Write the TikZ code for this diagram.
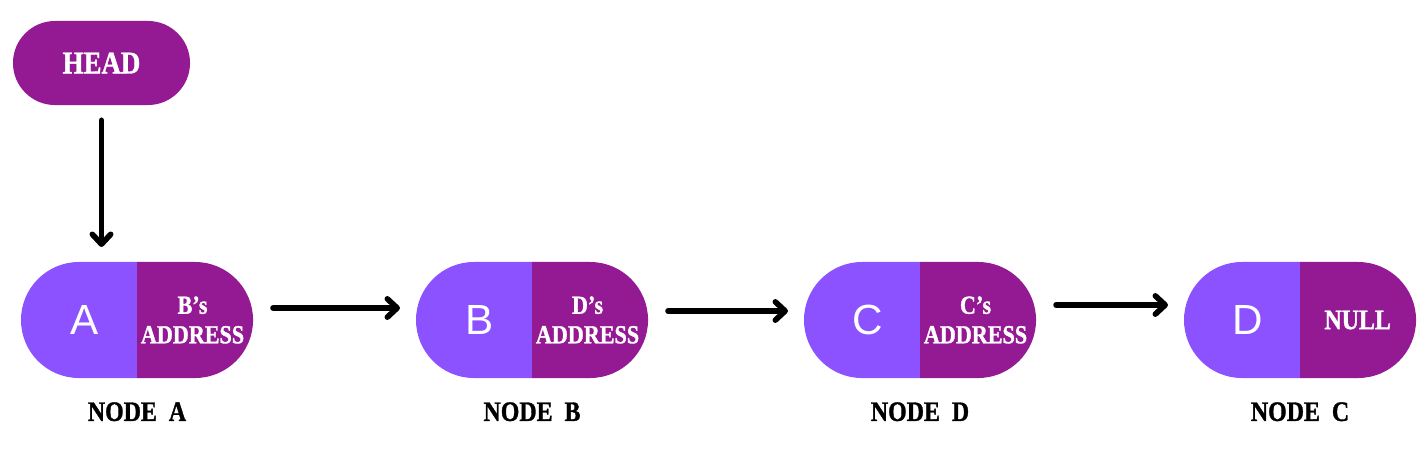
\documentclass[tikz,border=0pt]{standalone}
\usepackage{fontspec}
\setmainfont{Liberation Serif}
\newfontfamily\capsfont[FakeStretch=0.85,FakeBold=1.2]{Liberation Serif}
\newfontfamily\lettersans{Liberation Sans}
\usetikzlibrary{positioning,shapes.misc,arrows.meta}
\definecolor{lite}{HTML}{8C52FF}
\definecolor{deep}{HTML}{941A93}

\begin{document}
\begin{tikzpicture}[x=0.025cm,y=-0.025cm,
    data/.style={rounded rectangle,rounded rectangle east arc=none,fill=lite,
        minimum width=2.9cm,minimum height=2.9cm,inner sep=0pt,outer sep=0pt},
    ptr/.style={rounded rectangle,rounded rectangle west arc=none,fill=deep,
        minimum width=2.9cm,minimum height=2.9cm,inner sep=0pt,outer sep=0pt,
        text=white,align=center,
        font=\capsfont\bfseries\fontsize{18.5}{21}\selectfont},
    letter/.style={text=white,xshift=0.15cm,
        font=\lettersans\fontsize{30}{30}\selectfont},
    headbox/.style={rounded rectangle,fill=deep,minimum width=4.425cm,
        minimum height=2.1cm,inner sep=0pt,text=white,
        font=\capsfont\bfseries\fontsize{22.5}{24}\selectfont},
    caption/.style={inner sep=0pt,
        font=\capsfont\bfseries\fontsize{20}{22}\selectfont},
    link/.style={line width=4pt,line cap=round,
        -{Straight Barb[length=7pt,width=13pt,round]}}]

    \useasboundingbox (0,0) rectangle (1426,454);

    % the head
    \node[headbox] (head) at (101.5,63) {HEAD};

    % the list cells
    \node[data,label={[letter]center:A}] (a) at (79,320) {};
    \node[ptr,right=0pt of a] (aptr) {B’s\\ADDRESS};
    \node[data,label={[letter]center:B}] (b) at (474,320) {};
    \node[ptr,right=0pt of b] (bptr) {D’s\\ADDRESS};
    \node[data,label={[letter]center:C}] (c) at (862,320) {};
    \node[ptr,right=0pt of c] (cptr) {C’s\\ADDRESS};
    \node[data,label={[letter]center:D}] (d) at (1242,320) {};
    \node[ptr,right=0pt of d,font=\capsfont\bfseries\fontsize{20}{22}\selectfont]
    (dptr) {NULL};

    \node[caption,below=0.6cm of a.south east] (capa) {NODE\ \ A};
    \node[caption,below=0.6cm of b.south east] (capb) {NODE\ \ B};
    \node[caption,below=0.6cm of c.south east] (capc) {NODE\ \ D};
    \node[caption,below=0.6cm of d.south east] (capd) {NODE\ \ C};

    % the links
    \draw[link] ([yshift=-0.375cm]head.south) --
    ([yshift=0.375cm]head.south |- a.north);
    \draw[link] ([xshift=0.5cm,yshift=0.3cm]aptr.east) --
    ([xshift=-0.4cm,yshift=0.3cm]b.west);
    \draw[link] ([xshift=0.5cm,yshift=0.225cm]bptr.east) --
    ([xshift=-0.4cm,yshift=0.225cm]c.west);
    \draw[link] ([xshift=0.5cm,yshift=0.375cm]cptr.east) --
    ([xshift=-0.4cm,yshift=0.375cm]d.west);
\end{tikzpicture}
\end{document}
